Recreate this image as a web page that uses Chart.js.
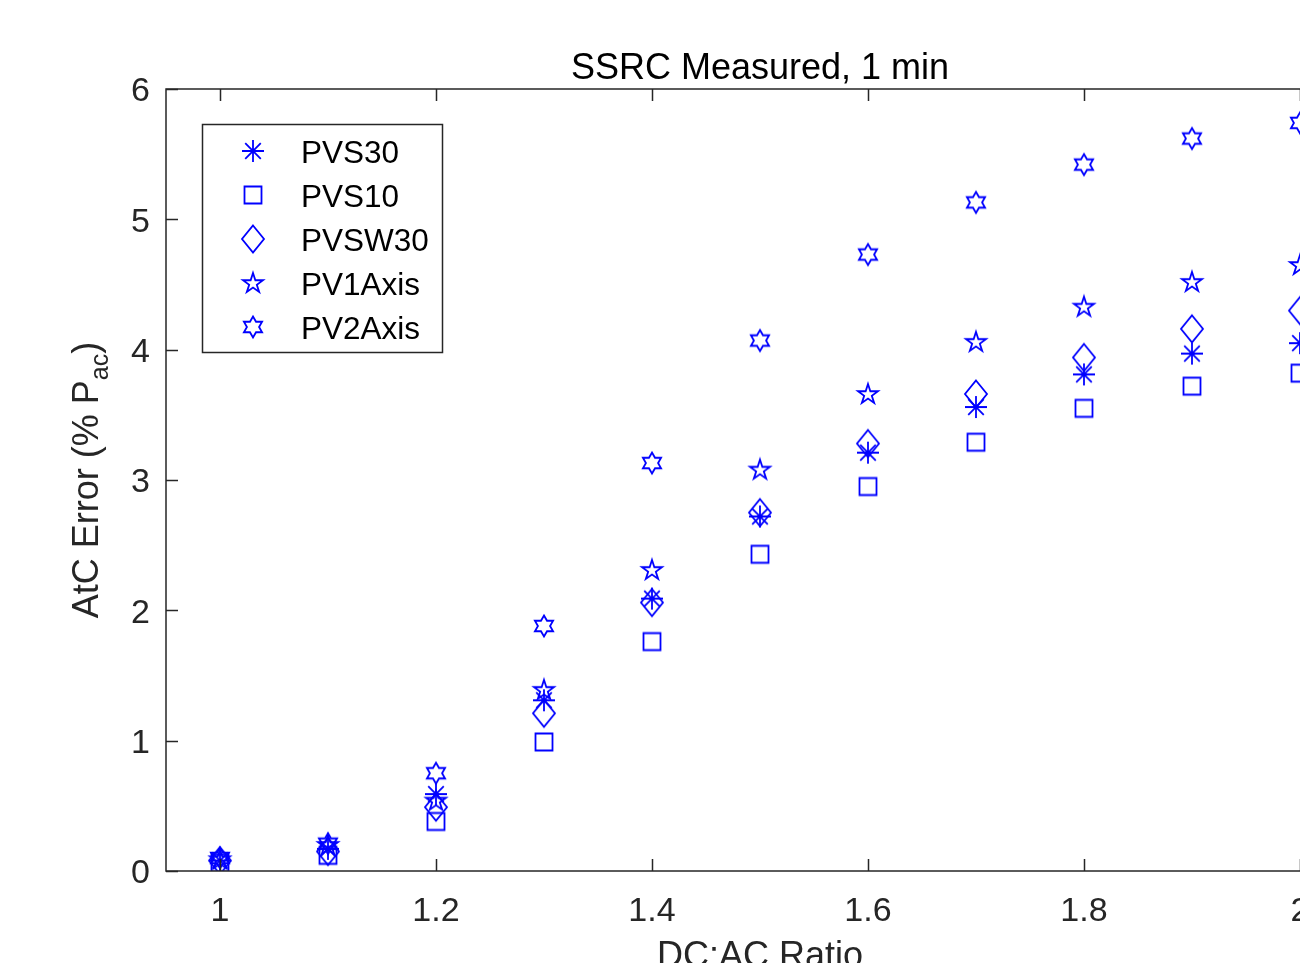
<!DOCTYPE html>
<html><head><meta charset="utf-8">
<script src="https://cdn.jsdelivr.net/npm/chart.js@4/dist/chart.umd.min.js"></script>
<style>html,body{margin:0;padding:0;overflow:hidden;background:#fff;width:1300px;height:963px}canvas{display:block}</style>
</head><body>
<canvas id="c" width="1520" height="1000" style="width:1520px;height:1000px"></canvas>
<script>
// ---- data ----
const titleText = 'SSRC Measured, 1 min';
const xLabel = 'DC:AC Ratio';
const yLabelMain = 'AtC Error (% P';
const yLabelSub = 'ac';
const yLabelEnd = ')';
const ratios = [1, 1.1, 1.2, 1.3, 1.4, 1.5, 1.6, 1.7, 1.8, 1.9, 2.0];
const seriesNames = ['PVS30', 'PVS10', 'PVSW30', 'PV1Axis', 'PV2Axis'];
const pvs30   = [0.08, 0.17, 0.59, 1.31, 2.09, 2.72, 3.21, 3.56, 3.81, 3.97, 4.05];
const pvs10   = [0.06, 0.12, 0.38, 0.99, 1.76, 2.43, 2.95, 3.29, 3.55, 3.72, 3.82];
const pvsw30  = [0.08, 0.15, 0.49, 1.21, 2.06, 2.75, 3.28, 3.66, 3.94, 4.16, 4.30];
const pv1axis = [0.09, 0.20, 0.54, 1.39, 2.31, 3.08, 3.66, 4.06, 4.33, 4.52, 4.65];
const pv2axis = [0.10, 0.21, 0.75, 1.88, 3.13, 4.07, 4.73, 5.13, 5.42, 5.62, 5.74];
const xTicks = [1, 1.2, 1.4, 1.6, 1.8, 2];
const yTicks = [0, 1, 2, 3, 4, 5, 6];

// ---- styles ----
const FONT = '"Liberation Sans", Arial, Helvetica, sans-serif';
const BLUE = '#0000ff';
const AXC = '#262626';

function makeMarker(kind) {
  const S = 34, c = document.createElement('canvas');
  c.width = S; c.height = S;
  const g = c.getContext('2d');
  g.strokeStyle = BLUE; g.lineWidth = 1.8; g.lineJoin = 'miter';
  const m = S / 2;
  g.beginPath();
  if (kind === 'asterisk') {
    const r = 11, d = r * Math.SQRT1_2;
    g.moveTo(m - r, m); g.lineTo(m + r, m);
    g.moveTo(m, m - r); g.lineTo(m, m + r);
    g.moveTo(m - d, m - d); g.lineTo(m + d, m + d);
    g.moveTo(m - d, m + d); g.lineTo(m + d, m - d);
  } else if (kind === 'square') {
    g.rect(m - 8.5, m - 8.5, 17, 17);
  } else if (kind === 'diamond') {
    g.moveTo(m, m - 13.5); g.lineTo(m + 11, m); g.lineTo(m, m + 13.5); g.lineTo(m - 11, m); g.closePath();
  } else if (kind === 'pentagram') {
    const R = 10.5, r = R * 0.382;
    for (let i = 0; i < 10; i++) {
      const a = -Math.PI / 2 + i * Math.PI / 5, rr = i % 2 ? r : R;
      const px = m + rr * Math.cos(a), py = m + 0.5 + rr * Math.sin(a);
      i ? g.lineTo(px, py) : g.moveTo(px, py);
    }
    g.closePath();
  } else if (kind === 'hexagram') {
    const R = 10.5, r = R / Math.sqrt(3);
    for (let i = 0; i < 12; i++) {
      const a = -Math.PI / 2 + i * Math.PI / 6, rr = i % 2 ? r : R;
      const px = m + rr * Math.cos(a), py = m + rr * Math.sin(a);
      i ? g.lineTo(px, py) : g.moveTo(px, py);
    }
    g.closePath();
  }
  g.stroke();
  return c;
}
const markerKinds = ['asterisk', 'square', 'diamond', 'pentagram', 'hexagram'];
const markers = markerKinds.map(makeMarker);
const seriesValues = [pvs30, pvs10, pvsw30, pv1axis, pv2axis];

const datasets = seriesNames.map((name, i) => ({
  label: name,
  data: ratios.map((x, j) => ({ x: x, y: seriesValues[i][j] })),
  pointStyle: markers[i],
  showLine: false,
  borderColor: BLUE,
  backgroundColor: 'transparent',
  order: seriesNames.length - i
}));

const matlabPlugin = {
  id: 'matlab',
  afterDraw(chart) {
    const ctx = chart.ctx, a = chart.chartArea;
    const xs = chart.scales.x, ys = chart.scales.y;
    ctx.save();
    ctx.strokeStyle = AXC; ctx.lineWidth = 1.5;
    ctx.strokeRect(a.left, a.top, a.right - a.left, a.bottom - a.top);
    const TL = 12;
    ctx.beginPath();
    xs.ticks.forEach(t => {
      const px = Math.round(xs.getPixelForValue(t.value)) + 0.5;
      ctx.moveTo(px, a.bottom); ctx.lineTo(px, a.bottom - TL);
      ctx.moveTo(px, a.top); ctx.lineTo(px, a.top + TL);
    });
    ys.ticks.forEach(t => {
      const py = Math.round(ys.getPixelForValue(t.value)) + 0.5;
      ctx.moveTo(a.left, py); ctx.lineTo(a.left + TL, py);
      ctx.moveTo(a.right, py); ctx.lineTo(a.right - TL, py);
    });
    ctx.stroke();

    // x label
    ctx.fillStyle = AXC;
    ctx.font = '36px ' + FONT;
    ctx.textAlign = 'center'; ctx.textBaseline = 'alphabetic';
    ctx.fillText(xLabel, (a.left + a.right) / 2, 967);

    // y label with subscript
    ctx.save();
    ctx.translate(98, (a.top + a.bottom) / 2);
    ctx.rotate(-Math.PI / 2);
    ctx.textAlign = 'left';
    const mainFont = '36px ' + FONT, subFont = '25px ' + FONT;
    ctx.font = mainFont; const w1 = ctx.measureText(yLabelMain).width, w3 = ctx.measureText(yLabelEnd).width;
    ctx.font = subFont; const w2 = ctx.measureText(yLabelSub).width;
    let x0 = -(w1 + w2 + w3) / 2;
    ctx.font = mainFont; ctx.fillText(yLabelMain, x0, 0);
    ctx.font = subFont; ctx.fillText(yLabelSub, x0 + w1, 10);
    ctx.font = mainFont; ctx.fillText(yLabelEnd, x0 + w1 + w2, 0);
    ctx.restore();

    // legend
    const L = { x: 202, y: 124, w: 240, h: 228 };
    ctx.fillStyle = '#fff';
    ctx.fillRect(L.x, L.y, L.w, L.h);
    ctx.strokeStyle = AXC; ctx.lineWidth = 1.5;
    ctx.strokeRect(L.x + 0.5, L.y + 0.5, L.w, L.h);
    ctx.font = '31.5px ' + FONT;
    ctx.fillStyle = '#000';
    ctx.textAlign = 'left'; ctx.textBaseline = 'middle';
    chart.data.datasets.forEach((ds, i) => {
      const cy = 151 + i * 44;
      const mk = ds.pointStyle;
      ctx.drawImage(mk, 253 - mk.width / 2, cy - mk.height / 2);
      ctx.fillText(ds.label, 301, cy + 3);
    });
    ctx.restore();
  }
};

new Chart(document.getElementById('c'), {
  type: 'scatter',
  data: { datasets: datasets },
  options: {
    responsive: false,
    animation: false,
    devicePixelRatio: 1,
    layout: { padding: 0 },
    plugins: {
      legend: { display: false },
      tooltip: { enabled: false },
      title: {
        display: true, text: titleText, color: '#000',
        font: { family: FONT, size: 36, weight: 'normal', lineHeight: 1.1 },
        padding: { top: 49, bottom: 0.4 }
      }
    },
    scales: {
      x: {
        type: 'linear', min: 0.95, max: 2.05,
        afterBuildTicks: s => { s.ticks = xTicks.map(v => ({ value: v })); },
        afterFit: s => { s.height = 129; },
        grid: { display: false, drawTicks: false },
        border: { display: false },
        ticks: { font: { family: FONT, size: 34 }, color: AXC, padding: 20, maxRotation: 0, autoSkip: false, callback: v => String(v) }
      },
      y: {
        type: 'linear', min: 0, max: 6,
        afterBuildTicks: s => { s.ticks = yTicks.map(v => ({ value: v })); },
        afterFit: s => { s.width = 166; },
        grid: { display: false, drawTicks: false },
        border: { display: false },
        ticks: { font: { family: FONT, size: 34 }, color: AXC, padding: 16, labelOffset: 3, autoSkip: false, callback: v => String(v) }
      },
      yRight: {
        type: 'linear', position: 'right', min: 0, max: 6,
        afterFit: s => { s.width = 166; },
        grid: { display: false, drawTicks: false },
        border: { display: false },
        ticks: { display: false }
      }
    }
  },
  plugins: [matlabPlugin]
});
</script>
</body></html>
